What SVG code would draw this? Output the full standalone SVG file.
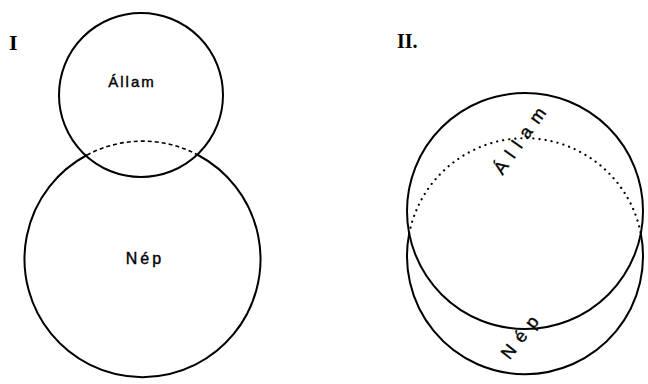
<svg xmlns="http://www.w3.org/2000/svg" width="648" height="384" viewBox="0 0 648 384">
<style>
.c{fill:none;stroke:#000;stroke-width:2}
.d{fill:none;stroke:#000;stroke-width:1.6;stroke-dasharray:4 3}
.o{fill:none;stroke:#000;stroke-width:2.2;stroke-dasharray:0.1 6;stroke-linecap:round}
.t{font-family:"Liberation Sans",Arial,sans-serif;font-size:15px;fill:#000;stroke:#000;stroke-width:0.4;letter-spacing:2px}
.r{font-size:18px;letter-spacing:8px}
.n{font-family:"Liberation Serif","Times New Roman",serif;font-weight:bold;fill:#000}
</style>
<rect width="648" height="384" fill="#fff"/>
<g id="label-I"><text class="n" x="9" y="50" font-size="22">I</text></g>
<g id="label-II"><text class="n" x="397" y="48" font-size="20">II.</text></g>
<g id="allam-1">
<circle class="c" cx="141" cy="95" r="82"/>
<text class="t" x="132" y="87" text-anchor="middle">Állam</text>
</g>
<g id="nep-1">
<path class="c" d="M87,155 A118,118 0 1,0 198,155"/>
<path class="d" d="M87,155 A118,118 0 0,1 198,155"/>
<text class="t" x="145" y="264" text-anchor="middle" style="font-size:16px;letter-spacing:3px">Nép</text>
</g>
<g id="allam-2">
<circle class="c" cx="525" cy="211" r="118"/>
<text class="t r" transform="translate(527,141) rotate(-55)" text-anchor="middle">Állam</text>
</g>
<g id="nep-2">
<path class="c" d="M409.2,233.5 A118,118 0 1,0 640.8,233.5"/>
<path class="o" d="M409.2,233.5 A118,118 0 0,1 640.8,233.5"/>
<text class="t r" transform="translate(527,338) rotate(-52)" text-anchor="middle">Nép</text>
</g>
<g id="connectors"></g>
</svg>
